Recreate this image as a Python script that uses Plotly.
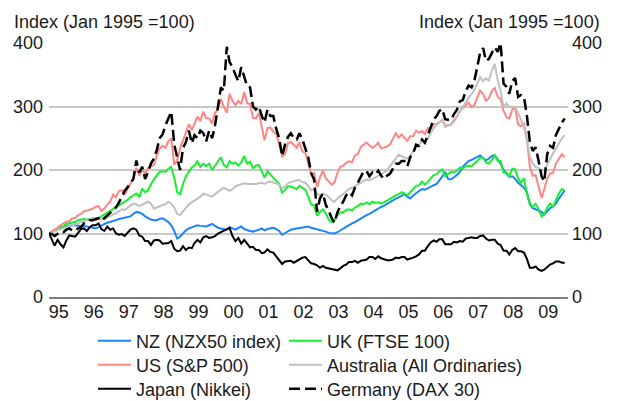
import pandas as pd
import plotly.graph_objects as go

# Monthly observations, Jan 1995 = 100
months = pd.date_range("1995-01-01", periods=178, freq="MS")

nz = [
    100, 103, 106, 108, 110, 111, 111, 112, 113, 113, 112, 112,
    112, 111, 110, 108, 108, 110, 113, 115, 117, 118, 119, 121,
    123, 124, 125, 126, 127, 131, 134, 133, 131, 127, 124, 122,
    121, 121, 123, 124, 121, 118, 113, 104, 92, 95, 100, 105,
    108, 110, 111, 113, 112, 112, 111, 113, 115, 112, 109, 108,
    107, 106, 110, 108, 106, 109, 111, 107, 105, 104, 103, 104,
    106, 108, 105, 107, 108, 109, 107, 104, 98, 101, 104, 106,
    107, 108, 109, 110, 110, 111, 109, 108, 106, 105, 104, 103,
    101, 100, 100, 102, 105, 108, 111, 113, 116, 118, 121, 123,
    126, 129, 131, 134, 136, 139, 142, 144, 147, 149, 152, 155,
    157, 160, 162, 158, 155, 160, 164, 167, 170, 169, 171, 174,
    176, 178, 183, 190, 197, 186, 185, 188, 192, 197, 205, 210,
    214, 216, 218, 221, 223, 219, 215, 218, 222, 223, 216, 210,
    200, 194, 189, 190, 186, 180, 176, 172, 165, 148, 140, 138,
    136, 134, 130, 135, 140, 143, 147, 155, 162, 168,
]

uk = [
    100, 101, 104, 107, 110, 111, 115, 116, 117, 118, 121, 122,
    123, 122, 122, 124, 124, 124, 127, 130, 133, 135, 138, 141,
    145, 148, 150, 153, 157, 160, 163, 158, 170, 165, 168, 178,
    186, 192, 197, 198, 197, 202, 205, 188, 165, 162, 178, 190,
    197, 204, 207, 214, 205, 210, 206, 210, 200, 207, 215, 220,
    208, 204, 214, 210, 212, 207, 212, 222, 210, 213, 203, 207,
    208, 198, 188, 198, 193, 188, 184, 178, 164, 169, 174, 174,
    172, 170, 175, 172, 169, 158, 146, 144, 128, 134, 138, 132,
    122, 118, 120, 129, 133, 133, 137, 138, 136, 141, 143, 147,
    146, 149, 146, 150, 148, 149, 147, 149, 152, 154, 157, 160,
    162, 165, 163, 160, 165, 170, 175, 176, 182, 177, 181, 187,
    192, 193, 198, 201, 190, 194, 197, 196, 199, 204, 202, 207,
    206, 206, 210, 214, 220, 219, 212, 210, 216, 223, 214, 214,
    196, 196, 190, 202, 201, 187, 180, 187, 163, 145, 142, 147,
    138, 127, 130, 141, 147, 142, 153, 163, 170, 168,
]

us = [
    100, 103, 106, 109, 113, 116, 119, 119, 124, 124, 129, 131,
    135, 136, 137, 139, 142, 143, 136, 139, 146, 150, 161, 157,
    167, 168, 161, 170, 180, 188, 203, 191, 201, 194, 203, 206,
    208, 223, 234, 238, 235, 245, 250, 208, 216, 234, 247, 261,
    272, 263, 274, 284, 277, 292, 282, 281, 273, 290, 295, 312,
    300, 290, 320, 309, 302, 309, 304, 323, 305, 304, 282, 281,
    290, 264, 247, 266, 267, 260, 257, 241, 221, 225, 242, 244,
    240, 235, 244, 229, 227, 210, 194, 195, 173, 188, 199, 187,
    182, 177, 180, 195, 205, 207, 211, 214, 212, 223, 225, 236,
    240, 243, 239, 235, 238, 243, 234, 235, 237, 240, 250, 258,
    251, 256, 251, 246, 253, 253, 262, 259, 261, 257, 266, 265,
    272, 272, 275, 279, 270, 270, 271, 277, 284, 293, 298, 302,
    306, 299, 302, 315, 325, 320, 309, 313, 325, 329, 315, 312,
    293, 283, 281, 295, 298, 272, 269, 273, 248, 206, 191, 192,
    176, 156, 170, 186, 195, 195, 210, 217, 225, 220,
]

australia = [
    100, 101, 103, 105, 107, 109, 111, 112, 113, 114, 116, 118,
    120, 121, 122, 124, 124, 123, 122, 123, 125, 127, 130, 132,
    135, 138, 137, 141, 144, 147, 146, 143, 145, 148, 150, 147,
    139, 141, 143, 145, 146, 150, 147, 141, 131, 129, 135, 140,
    146, 149, 152, 156, 158, 163, 161, 160, 158, 162, 166, 169,
    172, 170, 167, 170, 174, 176, 178, 179, 178, 178, 177, 178,
    179, 180, 178, 181, 182, 181, 179, 177, 171, 174, 179, 181,
    183, 184, 184, 181, 180, 175, 168, 170, 163, 160, 163, 160,
    158, 152, 150, 155, 158, 162, 166, 170, 172, 175, 177, 181,
    183, 185, 184, 186, 188, 190, 193, 196, 200, 206, 213, 218,
    224, 222, 220, 218, 223, 229, 236, 240, 246, 242, 251, 258,
    266, 272, 275, 278, 268, 270, 272, 280, 284, 292, 300, 306,
    314, 320, 326, 336, 346, 340, 344, 341, 357, 367, 341, 325,
    299, 305, 299, 300, 298, 290, 280, 268, 247, 221, 210, 205,
    203, 198, 200, 208, 218, 226, 234, 242, 250, 255,
]

japan = [
    100, 90, 81, 90, 83, 78, 89, 97, 96, 95, 101, 107,
    108, 104, 110, 113, 113, 116, 107, 104, 111, 106, 108, 100,
    98, 99, 96, 101, 106, 108, 106, 97, 95, 88, 88, 82,
    89, 90, 89, 84, 84, 85, 88, 76, 72, 73, 80, 74,
    78, 77, 85, 90, 86, 94, 96, 93, 94, 96, 100, 102,
    105, 107, 109, 96, 88, 93, 84, 90, 84, 78, 79, 74,
    74, 69, 70, 75, 71, 70, 64, 57, 52, 56, 57, 57,
    54, 57, 59, 62, 63, 57, 53, 52, 50, 46, 49, 46,
    45, 45, 43, 42, 45, 49, 51, 55, 55, 57, 54, 57,
    58, 59, 63, 63, 60, 64, 61, 59, 58, 58, 59, 62,
    61, 63, 63, 59, 60, 62, 64, 67, 73, 73, 80, 86,
    89, 87, 91, 91, 83, 83, 83, 87, 86, 88, 87, 92,
    93, 94, 93, 93, 96, 97, 92, 89, 90, 90, 84, 82,
    73, 73, 67, 74, 77, 72, 72, 70, 60, 46, 46, 48,
    43, 41, 43, 47, 51, 53, 56, 56, 54, 54,
]

germany = [
    100, 99, 96, 100, 103, 102, 106, 108, 105, 104, 108, 110,
    116, 118, 121, 121, 122, 124, 120, 124, 128, 132, 136, 141,
    149, 160, 167, 173, 180, 186, 215, 196, 205, 186, 197, 210,
    218, 232, 250, 256, 270, 282, 292, 240, 222, 200, 235, 244,
    262, 242, 255, 250, 262, 258, 245, 262, 250, 270, 300, 330,
    325, 394, 370, 362, 350, 340, 362, 345, 332, 330, 300, 295,
    300, 285, 275, 295, 285, 285, 265, 250, 222, 240, 252, 258,
    250, 248, 258, 248, 235, 220, 195, 185, 134, 155, 163, 145,
    136, 124, 117, 133, 143, 150, 160, 165, 160, 172, 180, 190,
    198, 198, 190, 196, 193, 199, 191, 186, 191, 194, 202, 210,
    210, 214, 214, 206, 220, 226, 240, 238, 248, 243, 255, 266,
    280, 285, 293, 296, 280, 279, 279, 288, 295, 308, 310, 324,
    333, 330, 340, 362, 385, 392, 372, 375, 385, 393, 386, 400,
    336, 331, 320, 340, 345, 315, 318, 315, 285, 245, 230, 236,
    214, 190, 182, 225, 238, 235, 255, 265, 275, 281,
]

year_labels = ["95", "96", "97", "98", "99", "00", "01", "02",
               "03", "04", "05", "06", "07", "08", "09"]
y_ticks = [0, 100, 200, 300, 400]

FONT = "Liberation Sans, Arial, sans-serif"
TXT = "#1a1a1a"
W, H = 618, 401

series = [
    # name, values, colour, dash, width
    ("NZ (NZX50 index)", nz, "#1a84ff", "solid", 2),
    ("UK (FTSE 100)", uk, "#16ee2e", "solid", 2),
    ("US (S&P 500)", us, "#ff8585", "solid", 2),
    ("Australia (All Ordinaries)", australia, "#c0c0c0", "solid", 2),
    ("Japan (Nikkei)", japan, "#000000", "solid", 2),
    ("Germany (DAX 30)", germany, "#000000", "11px,5px", 2.5),
]

# legend grid: two columns, three rows (row-major order)
legend_cols = [93, 284]
legend_rows = [341, 365, 389]
legend_ids = ["legend", "legend2", "legend3", "legend4", "legend5", "legend6"]

fig = go.Figure()
legend_layout = {}
for i, (name, vals, colour, dash, width) in enumerate(series):
    lid = legend_ids[i]
    fig.add_trace(go.Scatter(
        x=months, y=vals, mode="lines", name=name,
        line=dict(color=colour, width=width, dash=dash),
        legend=lid,
    ))
    col, row = i % 2, i // 2
    legend_layout[lid] = dict(
        orientation="v", xref="container", yref="container",
        x=legend_cols[col] / W, y=1 - legend_rows[row] / H,
        xanchor="left", yanchor="middle",
        bgcolor="rgba(0,0,0,0)", font=dict(size=18, color=TXT),
        itemwidth=33, borderwidth=0,
    )

# invisible trace so the right-hand axis is drawn
fig.add_trace(go.Scatter(x=[months[0]], y=[0], yaxis="y2", mode="lines",
                         showlegend=False, hoverinfo="skip",
                         line=dict(color="rgba(0,0,0,0)")))

tick_dates = [f"{1995 + i}-04-12" for i in range(len(year_labels))]

fig.update_layout(
    width=W, height=H,
    margin=dict(l=49, r=50, t=43, b=104, autoexpand=False),
    paper_bgcolor="white", plot_bgcolor="white",
    font=dict(family=FONT, size=18, color=TXT),
    xaxis=dict(
        type="date", range=["1995-01-01", "2009-11-04"],
        tickmode="array", tickvals=tick_dates, ticktext=year_labels,
        showgrid=False, zeroline=False, ticks="",
        showline=True, linecolor="#7f7f7f", linewidth=2,
        tickfont=dict(size=18, color=TXT), automargin=False,
        ticklabelstandoff=-3,
    ),
    yaxis=dict(
        range=[0, 400], tickvals=y_ticks, showgrid=True,
        gridcolor="#c8c8c8", gridwidth=1.5, zeroline=False,
        ticks="", showline=False, tickfont=dict(size=18, color=TXT),
        ticklabelstandoff=5, automargin=False,
    ),
    yaxis2=dict(
        range=[0, 400], tickvals=y_ticks, overlaying="y", side="right",
        showgrid=False, zeroline=False, ticks="", showline=False,
        tickfont=dict(size=18, color=TXT), ticklabelstandoff=3,
        automargin=False,
    ),
    showlegend=True,
    annotations=[
        dict(text="Index (Jan 1995 =100)", xref="paper", yref="paper",
             x=(12 - 49) / 519, y=(297 - 22) / 254.3,
             xanchor="left", yanchor="middle", showarrow=False,
             font=dict(size=18, color=TXT)),
        dict(text="Index (Jan 1995 =100)", xref="paper", yref="paper",
             x=(602 - 49) / 519, y=(297 - 22) / 254.3,
             xanchor="right", yanchor="middle", showarrow=False,
             font=dict(size=18, color=TXT)),
    ],
    **legend_layout,
)

fig.write_html("out.html")
